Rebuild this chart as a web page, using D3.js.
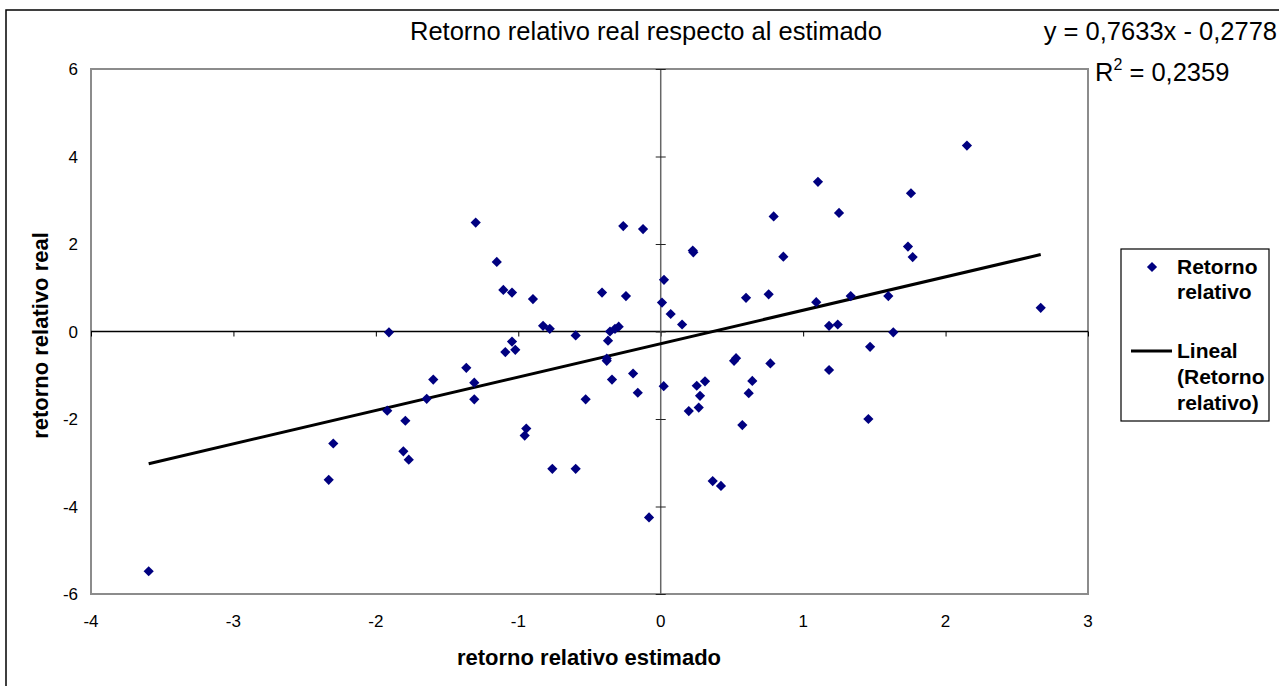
<!DOCTYPE html>
<html><head><meta charset="utf-8">
<script src="https://cdn.jsdelivr.net/npm/d3@7"></script>
<style>
html,body{margin:0;padding:0;background:#fff;}
svg{display:block;font-family:"Liberation Sans",Arial,sans-serif;}
</style></head>
<body><svg id="c" width="1279" height="686"></svg>
<script>
// ---- data ----
const estimado = [-3.595,-2.331,-2.299,-1.908,-1.920,-1.793,-1.807,-1.769,-1.643,-1.597,
 -1.365,-1.309,-1.309,-1.299,-1.151,-1.105,-1.044,-1.091,-1.044,-1.021,
 -0.944,-0.955,-0.897,-0.826,-0.779,-0.761,-0.597,-0.597,-0.527,-0.412,
 -0.356,-0.321,-0.295,-0.370,-0.379,-0.379,-0.342,-0.263,-0.244,-0.194,
 -0.161,-0.124,-0.082,0.009,0.023,0.021,0.070,0.150,0.197,0.225,
 0.229,0.267,0.253,0.276,0.311,0.365,0.423,0.529,0.515,0.573,
 0.599,0.618,0.643,0.758,0.770,0.793,0.861,1.104,1.092,1.182,
 1.182,1.243,1.252,1.334,1.470,1.458,1.598,1.633,1.736,1.769,
 1.757,2.150,2.668];
const real = [-5.48,-3.39,-2.56,-0.02,-1.81,-2.04,-2.74,-2.93,-1.54,-1.10,
 -0.83,-1.17,-1.55,2.49,1.59,0.95,0.89,-0.47,-0.23,-0.42,
 -2.22,-2.38,0.74,0.13,0.06,-3.14,-0.09,-3.14,-1.55,0.89,
 0.00,0.06,0.11,-0.21,-0.62,-0.67,-1.10,2.41,0.81,-0.96,
 -1.40,2.34,-4.25,0.66,1.18,-1.25,0.40,0.16,-1.82,1.85,
 1.81,-1.74,-1.24,-1.47,-1.14,-3.42,-3.53,-0.61,-0.67,-2.14,
 0.77,-1.41,-1.13,0.85,-0.73,2.63,1.71,3.42,0.67,-0.88,
 0.13,0.16,2.71,0.81,-0.35,-2.00,0.81,-0.02,1.94,1.70,
 3.16,4.25,0.54];
const trendSlope = 0.7633, trendIntercept = -0.2778, rSquared = 0.2359;
const xTicks = [-4,-3,-2,-1,0,1,2,3];
const yTicks = [-6,-4,-2,0,2,4,6];
const title = "Retorno relativo real respecto al estimado";
const xTitle = "retorno relativo estimado";
const yTitle = "retorno relativo real";
const legendSeries = ["Retorno", "relativo"];
const legendTrend = ["Lineal", "(Retorno", "relativo)"];

// ---- layout ----
const svg = d3.select("#c");
const L = 91, T = 69, R = 1088, B = 594;
const x = d3.scaleLinear().domain([-4,3]).range([L,R]);
const y = d3.scaleLinear().domain([-6,6]).range([B,T]);
const fmt = v => String(v).replace(".", ",");

// outer border
svg.append("rect").attr("x",6).attr("y",10).attr("width",1290).attr("height",700)
  .attr("fill","#fff").attr("stroke","#000").attr("stroke-width",1.5);

// plot area
svg.append("rect").attr("x",L).attr("y",T).attr("width",R-L).attr("height",B-T)
  .attr("fill","#fff").attr("stroke","#8c8c8c").attr("stroke-width",2);

// x axis at y=0 (ticks downward)
const xAxis = svg.append("g").attr("transform",`translate(0,${y(0)})`)
  .call(d3.axisBottom(x).tickValues(xTicks).tickSize(5).tickFormat(""));
xAxis.select(".domain").attr("stroke","#000").attr("stroke-width",1.3).attr("d",`M${L},0H${R}`);
xAxis.selectAll(".tick line").attr("stroke","#000");

// y axis at x=0 (ticks crossing)
const yAxis = svg.append("g").attr("transform",`translate(${x(0)},0)`)
  .call(d3.axisLeft(y).tickValues(yTicks).tickSize(0).tickFormat(""));
yAxis.select(".domain").attr("stroke","#666").attr("stroke-width",1.5).attr("d",`M0,${T}V${B}`);
yAxis.selectAll(".tick").append("line").attr("x1",-5).attr("x2",5).attr("stroke","#222").attr("stroke-width",1);

// tick labels
svg.append("g").selectAll("text").data(xTicks).join("text")
  .attr("x",d=>x(d)).attr("y",B+33).attr("text-anchor","middle")
  .attr("font-size",17).attr("fill","#000").text(d=>d);
svg.append("g").selectAll("text").data(yTicks).join("text")
  .attr("x",L-13).attr("y",d=>y(d)+6).attr("text-anchor","end")
  .attr("font-size",17).attr("fill","#000").text(d=>d);

// trend line
const xmin = d3.min(estimado), xmax = d3.max(estimado);
svg.append("line")
  .attr("x1",x(xmin)).attr("y1",y(trendSlope*xmin+trendIntercept))
  .attr("x2",x(xmax)).attr("y2",y(trendSlope*xmax+trendIntercept))
  .attr("stroke","#000").attr("stroke-width",3);

// points
const diamond = d3.symbol(d3.symbolSquare, 52)();
svg.append("g").selectAll("path").data(estimado.map((v,i)=>[v,real[i]])).join("path")
  .attr("d",diamond).attr("fill","#000080")
  .attr("transform",d=>`translate(${x(d[0])},${y(d[1])}) rotate(45)`);

// titles
svg.append("text").attr("x",646).attr("y",40).attr("text-anchor","middle")
  .attr("font-size",25.5).text(title);
svg.append("text").attr("x",589).attr("y",665).attr("text-anchor","middle")
  .attr("font-size",22).attr("font-weight","bold").text(xTitle);
svg.append("text").attr("transform",`translate(48,${(T+B)/2+4}) rotate(-90)`)
  .attr("text-anchor","middle").attr("font-size",22).attr("font-weight","bold").text(yTitle);

// equation
svg.append("text").attr("x",1277).attr("y",40).attr("text-anchor","end")
  .attr("font-size",25.5)
  .text(`y = ${fmt(trendSlope)}x - ${fmt(Math.abs(trendIntercept))}`);
const r2 = svg.append("text").attr("x",1095).attr("y",81).attr("font-size",25.5);
r2.append("tspan").text("R");
r2.append("tspan").attr("dy",-11).attr("font-size",16).text("2");
r2.append("tspan").attr("dy",11).text(` = ${fmt(rSquared)}`);

// legend
const lg = svg.append("g");
lg.append("rect").attr("x",1121).attr("y",249).attr("width",148).attr("height",172)
  .attr("fill","#fff").attr("stroke","#000").attr("stroke-width",1.2);
lg.append("path").attr("d",diamond).attr("fill","#000080")
  .attr("transform","translate(1152,267) rotate(45)");
lg.selectAll("text.s").data(legendSeries).join("text").attr("class","s")
  .attr("x",1177).attr("y",(d,i)=>274+i*25).attr("font-size",21).attr("font-weight","bold").text(d=>d);
lg.append("line").attr("x1",1131).attr("x2",1172).attr("y1",351).attr("y2",351)
  .attr("stroke","#000").attr("stroke-width",3);
lg.selectAll("text.t").data(legendTrend).join("text").attr("class","t")
  .attr("x",1177).attr("y",(d,i)=>358+i*26).attr("font-size",21).attr("font-weight","bold").text(d=>d);
</script></body></html>
